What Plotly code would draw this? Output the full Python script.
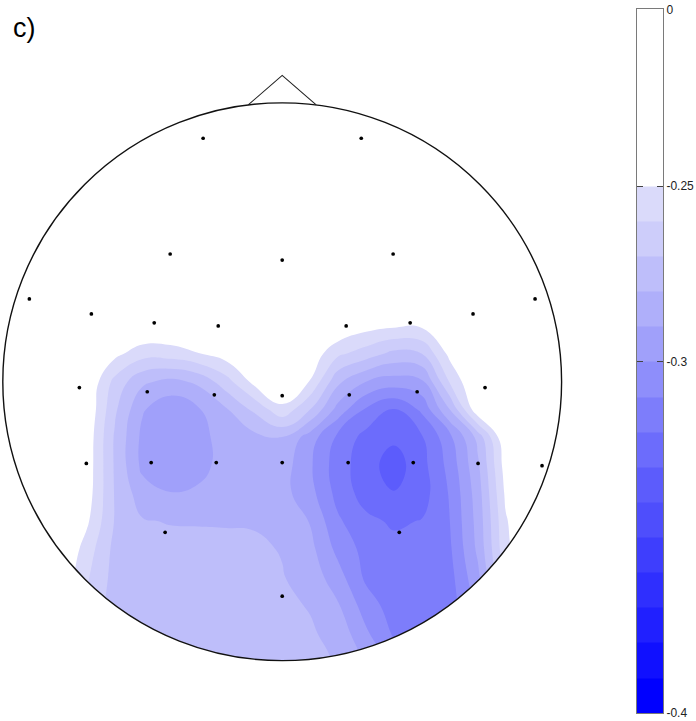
import math
import plotly.graph_objects as go

# ---------------- data (head units: radius 1, nose up) ----------------
grid_u = [-1.1, -1.0, -0.9, -0.8, -0.7, -0.6, -0.5, -0.4, -0.3, -0.2, -0.1, 0.0,
          0.1, 0.2, 0.3, 0.4, 0.5, 0.6, 0.7, 0.8, 0.9, 1.0, 1.1]
grid_v = [1.1, 0.4, 0.3, 0.2, 0.1, 0.0, -0.1, -0.2, -0.3, -0.4, -0.5, -0.6, -0.7, -0.8, -0.9, -1.0, -1.1]

# amplitude, one row per grid_v (top to bottom)
z_rows = [
    [-0.200, -0.200, -0.200, -0.200, -0.200, -0.200, -0.200, -0.200, -0.200, -0.200, -0.200, -0.200,
     -0.200, -0.200, -0.200, -0.200, -0.200, -0.200, -0.200, -0.200, -0.200, -0.200, -0.200],
    [-0.200, -0.200, -0.200, -0.200, -0.200, -0.200, -0.200, -0.200, -0.200, -0.200, -0.200, -0.200,
     -0.200, -0.200, -0.200, -0.200, -0.200, -0.200, -0.200, -0.200, -0.200, -0.200, -0.200],
    [-0.212, -0.215, -0.218, -0.22, -0.222, -0.225, -0.227, -0.228, -0.227, -0.225, -0.222, -0.22,
     -0.222, -0.226, -0.231, -0.234, -0.234, -0.23, -0.225, -0.22, -0.218, -0.215, -0.212],
    [-0.215, -0.218, -0.222, -0.226, -0.229, -0.232, -0.238, -0.239, -0.236, -0.232, -0.228, -0.226,
     -0.232, -0.24, -0.246, -0.2485, -0.2485, -0.24, -0.232, -0.226, -0.222, -0.218, -0.215],
    [-0.215, -0.218, -0.222, -0.228, -0.235, -0.247, -0.256, -0.255, -0.2505, -0.245, -0.238, -0.235,
     -0.243, -0.258, -0.265, -0.2729, -0.27, -0.247, -0.235, -0.228, -0.222, -0.218, -0.215],
    [-0.216, -0.22, -0.225, -0.232, -0.24, -0.263, -0.278, -0.283, -0.278, -0.264, -0.247, -0.24,
     -0.2505, -0.278, -0.29, -0.2946, -0.292, -0.259, -0.238, -0.23, -0.224, -0.22, -0.216],
    [-0.21, -0.215, -0.222, -0.23, -0.241, -0.268, -0.289, -0.297, -0.291, -0.281, -0.268, -0.2525,
     -0.27, -0.294, -0.3115, -0.3205, -0.308, -0.28, -0.242, -0.232, -0.225, -0.22, -0.216],
    [-0.206, -0.212, -0.222, -0.23, -0.243, -0.271, -0.2925, -0.3002, -0.2935, -0.2855, -0.283, -0.2805,
     -0.295, -0.3125, -0.3235, -0.328, -0.321, -0.303, -0.277, -0.24, -0.228, -0.222, -0.218],
    [-0.204, -0.21, -0.222, -0.231, -0.2435, -0.271, -0.2925, -0.2998, -0.293, -0.2865, -0.2862, -0.285,
     -0.2985, -0.3155, -0.3255, -0.335, -0.3235, -0.3065, -0.282, -0.245, -0.232, -0.225, -0.22],
    [-0.204, -0.21, -0.222, -0.232, -0.2445, -0.2705, -0.2855, -0.2895, -0.2885, -0.2865, -0.2855, -0.2865,
     -0.2965, -0.3135, -0.3245, -0.3295, -0.3245, -0.309, -0.285, -0.248, -0.235, -0.228, -0.222],
    [-0.204, -0.21, -0.222, -0.233, -0.248, -0.2705, -0.2792, -0.2806, -0.2807, -0.2808, -0.2808, -0.2835,
     -0.2905, -0.3085, -0.3175, -0.3215, -0.3195, -0.31, -0.2865, -0.251, -0.238, -0.23, -0.224],
    [-0.204, -0.21, -0.222, -0.237, -0.2545, -0.2727, -0.2755, -0.2765, -0.277, -0.2775, -0.2785, -0.2805,
     -0.287, -0.303, -0.3135, -0.317, -0.317, -0.3115, -0.288, -0.2525, -0.239, -0.232, -0.226],
    [-0.2, -0.205, -0.222, -0.24, -0.2585, -0.2735, -0.2755, -0.276, -0.2765, -0.277, -0.278, -0.2795,
     -0.284, -0.296, -0.312, -0.3165, -0.317, -0.3135, -0.2925, -0.256, -0.242, -0.235, -0.228],
    [-0.195, -0.2, -0.22, -0.243, -0.262, -0.2745, -0.276, -0.2762, -0.2765, -0.277, -0.2775, -0.278,
     -0.2807, -0.2892, -0.305, -0.315, -0.317, -0.315, -0.297, -0.26, -0.245, -0.238, -0.23],
    [-0.195, -0.2, -0.22, -0.245, -0.265, -0.275, -0.276, -0.2765, -0.277, -0.2773, -0.2776, -0.2781,
     -0.2788, -0.2835, -0.2985, -0.3115, -0.316, -0.316, -0.3, -0.262, -0.248, -0.24, -0.232],
    [-0.195, -0.2, -0.22, -0.245, -0.265, -0.275, -0.276, -0.2765, -0.277, -0.2773, -0.2776, -0.278,
     -0.2785, -0.2805, -0.292, -0.305, -0.314, -0.316, -0.302, -0.265, -0.25, -0.242, -0.234],
    [-0.195, -0.2, -0.22, -0.245, -0.265, -0.275, -0.276, -0.2765, -0.277, -0.2773, -0.2776, -0.278,
     -0.2785, -0.2805, -0.292, -0.305, -0.314, -0.316, -0.302, -0.265, -0.25, -0.242, -0.234],
]

# electrode positions
elec_u = [-0.283, 0.283,
          -0.401, 0.0, 0.397,
          -0.905, -0.683, -0.458, -0.229, 0.229, 0.458, 0.683, 0.905,
          -0.726, -0.483, -0.243, 0.0, 0.240, 0.483, 0.726,
          -0.701, -0.469, -0.236, 0.0, 0.236, 0.469, 0.701, 0.930,
          -0.419, 0.419,
          0.0]
elec_v = [0.873, 0.873,
          0.458, 0.436, 0.458,
          0.297, 0.243, 0.211, 0.200, 0.200, 0.211, 0.243, 0.297,
          -0.021, -0.036, -0.047, -0.050, -0.047, -0.036, -0.021,
          -0.293, -0.290, -0.290, -0.290, -0.290, -0.290, -0.293, -0.301,
          -0.540, -0.540,
          -0.769]

# contour levels / colour bar
level_start = -0.39
level_end = -0.25
level_step = 0.01
cbar_edges = [-0.40, -0.39, -0.38, -0.37, -0.36, -0.35, -0.34, -0.33, -0.32,
              -0.31, -0.30, -0.29, -0.28, -0.27, -0.26, -0.25]
cbar_top_value = 0.0
tick_values = [-0.4, -0.3, -0.25, 0.0]
tick_labels = ["-0.4", "-0.3", "-0.25", "0"]
panel_label = "c)"

# ---------------- style ----------------
band_colors = [
    "rgb(0,0,255)", "rgb(16,16,255)", "rgb(32,32,255)", "rgb(47,47,254)",
    "rgb(62,62,253)", "rgb(78,78,252)", "rgb(92,92,252)", "rgb(108,108,252)",
    "rgb(125,125,251)", "rgb(142,142,251)", "rgb(160,160,250)", "rgb(175,175,250)",
    "rgb(190,190,250)", "rgb(205,205,250)", "rgb(218,218,250)", "rgb(255,255,255)",
]
nb = len(band_colors) - 1
colorscale = [[i / nb, c] for i, c in enumerate(band_colors)]
white_band_height = 0.0503   # drawn height of the 0 .. -0.25 band on the colour bar

W = 696
H_FIG = 730
# observed vertical mapping of the photographed page: shot_y = SHOT_OFF + SHOT_SCALE * page_y
SHOT_OFF, SHOT_SCALE = 5.5, 0.9826

CX, CY, R = 282.2, 380.9, 279.4   # head centre / radius in target pixels
PLOT_W = 600


def page_y(target_px):
    return (target_px - SHOT_OFF) / SHOT_SCALE


def paper_y(target_px):
    return 1 - page_y(target_px) / H_FIG


x_range = [(0 - CX) / R, (PLOT_W - CX) / R]
y_range = [(CY - (SHOT_OFF + SHOT_SCALE * H_FIG)) / R, (CY - SHOT_OFF) / R]

fig = go.Figure()

fig.add_trace(go.Contour(
    x=grid_u, y=grid_v[::-1], z=z_rows[::-1],
    autocontour=False,
    contours=dict(start=level_start, end=level_end, size=level_step,
                  coloring="fill", showlines=False),
    line=dict(width=0, smoothing=1.3),
    colorscale=colorscale, showscale=False, hoverinfo="skip",
    xaxis="x", yaxis="y",
))

fig.add_trace(go.Scatter(
    x=elec_u, y=elec_v, mode="markers",
    marker=dict(size=3.7, color="black"),
    hoverinfo="skip", showlegend=False, xaxis="x", yaxis="y",
))


def disp(v):
    return v if v <= level_end else level_end + white_band_height * (v - level_end) / (cbar_top_value - level_end)


cb_edges_disp = cbar_edges + [disp(cbar_top_value)]
fig.add_trace(go.Heatmap(
    z=[[i] for i in range(len(cbar_edges))],
    y=cb_edges_disp, x=[0, 1],
    zmin=0, zmax=nb, colorscale=colorscale, showscale=False,
    hoverinfo="skip", xaxis="x2", yaxis="y2",
))

# head mask, outline and nose
n = 360
circ = [(math.cos(2 * math.pi * i / n), math.sin(2 * math.pi * i / n)) for i in range(n)]
mask_path = ("M -1.2,-1.2 L 1.2,-1.2 L 1.2,1.2 L -1.2,1.2 Z M "
             + " L ".join(f"{x:.5f},{y:.5f}" for x, y in circ) + " Z")

nose_half = 34 / R
nose_base = math.sqrt(1 - nose_half ** 2)
nose_tip = (CY - 74) / R

shapes = [
    dict(type="path", path=mask_path, xref="x", yref="y", fillcolor="white",
         line=dict(width=0), layer="above", fillrule="evenodd"),
    dict(type="circle", x0=-1, y0=-1, x1=1, y1=1, xref="x", yref="y",
         line=dict(color="#111111", width=1.4), layer="above"),
    dict(type="path", xref="x", yref="y", layer="above",
         path=f"M {-nose_half},{nose_base} L 0,{nose_tip} L {nose_half},{nose_base}",
         line=dict(color="#222222", width=1.1)),
]

fig.update_layout(
    width=W, height=H_FIG,
    autosize=False,
    margin=dict(l=0, r=0, t=0, b=0, pad=0),
    paper_bgcolor="white", plot_bgcolor="white",
    showlegend=False,
    shapes=shapes,
    xaxis=dict(domain=[0, PLOT_W / W], range=x_range, visible=False, fixedrange=True),
    yaxis=dict(domain=[0, 1], range=y_range, visible=False, fixedrange=True),
    xaxis2=dict(domain=[637 / W, 663 / W], range=[0, 1], anchor="y2",
                showticklabels=False, ticks="", showgrid=False, zeroline=False,
                showline=True, mirror=True, linecolor="#7a7a7a", linewidth=1),
    yaxis2=dict(domain=[paper_y(713), paper_y(8)],
                range=[cbar_edges[0], disp(cbar_top_value)], anchor="x2",
                side="right", tickvals=[disp(t) for t in tick_values], ticktext=tick_labels,
                ticks="inside", ticklen=6, tickwidth=1, tickcolor="#444444",
                mirror="ticks", showline=True, linecolor="#7a7a7a", linewidth=1,
                showgrid=False, zeroline=False, ticklabeloverflow="allow",
                tickfont=dict(family="Liberation Sans, Arial, sans-serif", size=12, color="#222222")),
    annotations=[dict(text=panel_label, xref="paper", yref="paper",
                      x=11 / W, y=paper_y(27), xanchor="left", yanchor="middle",
                      showarrow=False,
                      font=dict(family="Liberation Sans, Arial, sans-serif", size=27, color="black"))],
)

page_fix = ("document.body.style.margin='0';document.body.style.padding='0';"
            "document.body.style.overflow='hidden';"
            "Plotly.relayout(document.getElementById('{plot_id}'),{width:%d,height:%d});" % (W, H_FIG))

fig.write_html("out.html", config={"responsive": False, "displayModeBar": False},
               post_script=page_fix)
